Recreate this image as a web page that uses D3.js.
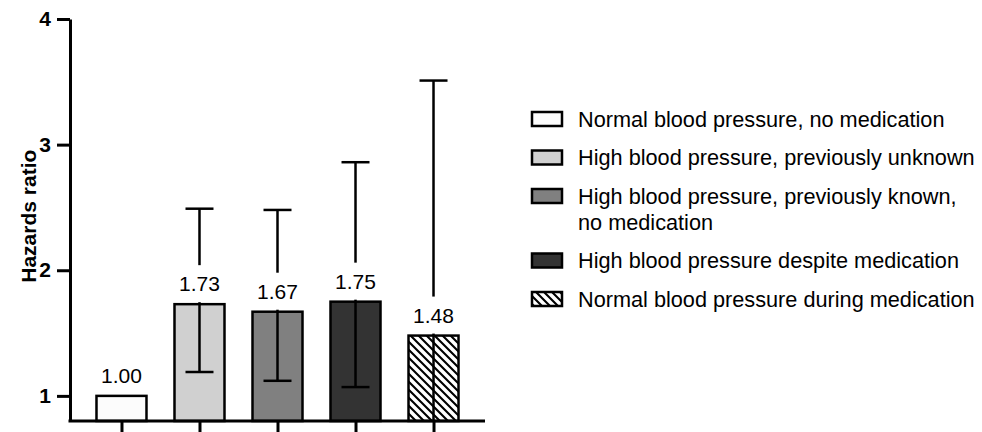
<!DOCTYPE html>
<html>
<head>
<meta charset="utf-8">
<script src="https://cdn.jsdelivr.net/npm/d3@7"></script>
<style>
  body { margin: 0; background: #fff; }
  svg text { font-family: "Liberation Sans", Arial, sans-serif; fill: #000; }
</style>
</head>
<body>
<div id="chart"></div>
<script>
// data
var groups = ["Normal blood pressure, no medication",
              "High blood pressure, previously unknown",
              "High blood pressure, previously known, no medication",
              "High blood pressure despite medication",
              "Normal blood pressure during medication"];
var hrValues = [1.00, 1.73, 1.67, 1.75, 1.48];
var ciLower = [null, 1.19, 1.12, 1.07, 0.62];
var ciUpper = [null, 2.49, 2.48, 2.86, 3.51];
var hrLabels = ["1.00", "1.73", "1.67", "1.75", "1.48"];
var yTicks = [1, 2, 3, 4];
var legendLines = [["Normal blood pressure, no medication"],
                   ["High blood pressure, previously unknown"],
                   ["High blood pressure, previously known,", "no medication"],
                   ["High blood pressure despite medication"],
                   ["Normal blood pressure during medication"]];
var fills = ["#fcfcfc", "#d0d0d0", "#808080", "#333333", "url(#hatch)"];

var width = 982, height = 432;
var margin = { top: 19, left: 70 };
var w = 415, h = 402;

var svg = d3.select("#chart").append("svg")
  .attr("width", width).attr("height", height);

// diagonal hatch for the last group
var pat = svg.append("defs").append("pattern")
  .attr("id", "hatch").attr("patternUnits", "userSpaceOnUse")
  .attr("width", 8).attr("height", 8);
pat.append("rect").attr("width", 8).attr("height", 8).attr("fill", "#fff");
pat.append("path")
  .attr("d", "M-1,-1 L9,9 M-1,7 L1,9 M7,-1 L9,1")
  .attr("stroke", "#000").attr("stroke-width", 2.1);

var g = svg.append("g").attr("transform", "translate(" + margin.left + "," + margin.top + ")");

var x = d3.scalePoint().domain(groups).range([0, w]).padding(0.66);
var y = d3.scaleLinear().domain([0.8, 4]).range([h, 0]);
var barW = 50;

g.append("clipPath").attr("id", "plotclip")
  .append("rect").attr("x", 0).attr("y", -5).attr("width", w).attr("height", h + 5);

// bars
g.selectAll(".bar").data(groups).enter().append("rect")
  .attr("class", "bar")
  .attr("x", function(d) { return x(d) - barW / 2; })
  .attr("y", function(d, i) { return y(hrValues[i]); })
  .attr("width", barW)
  .attr("height", function(d, i) { return y(0.8) - y(hrValues[i]); })
  .attr("fill", function(d, i) { return fills[i]; })
  .attr("stroke", "#000").attr("stroke-width", 2.5);

// error bars
var eb = g.append("g").attr("clip-path", "url(#plotclip)");
groups.forEach(function(d, i) {
  if (ciUpper[i] == null) return;
  var cx = x(d);
  eb.append("line").attr("x1", cx).attr("x2", cx)
    .attr("y1", y(Math.max(ciLower[i], 0.8))).attr("y2", y(ciUpper[i]))
    .attr("stroke", "#000").attr("stroke-width", 2.5);
  eb.append("line").attr("x1", cx - 14).attr("x2", cx + 14)
    .attr("y1", y(ciUpper[i])).attr("y2", y(ciUpper[i]))
    .attr("stroke", "#000").attr("stroke-width", 2.5);
  if (ciLower[i] > 0.8) {
    eb.append("line").attr("x1", cx - 14).attr("x2", cx + 14)
      .attr("y1", y(ciLower[i])).attr("y2", y(ciLower[i]))
      .attr("stroke", "#000").attr("stroke-width", 2.5);
  }
});

// value labels on a white box that breaks the whisker
groups.forEach(function(d, i) {
  var top = y(hrValues[i]);
  g.append("rect").attr("x", x(d) - 24).attr("y", top - 39)
    .attr("width", 48).attr("height", 37).attr("fill", "#fff");
  g.append("text").attr("x", x(d)).attr("y", top - 13)
    .attr("text-anchor", "middle").style("font-size", "21px")
    .text(hrLabels[i]);
});

// axes
var yAxis = g.append("g")
  .call(d3.axisLeft(y).tickValues(yTicks).tickFormat(d3.format("d")).tickSize(13).tickSizeOuter(0));
yAxis.selectAll("path, line").attr("stroke", "#000").attr("stroke-width", 3);
yAxis.selectAll("text").style("font-size", "21px").style("font-weight", "bold")
  .attr("x", -19).attr("font-family", null);

var xAxis = g.append("g").attr("transform", "translate(0," + h + ")")
  .call(d3.axisBottom(x).tickFormat("").tickSize(13).tickSizeOuter(0));
xAxis.selectAll("path, line").attr("stroke", "#000").attr("stroke-width", 3);
xAxis.select(".domain").attr("d", "M-1.5,0H" + w);

g.append("text")
  .attr("transform", "translate(" + (-34) + "," + (y(2.43)) + ") rotate(-90)")
  .attr("text-anchor", "middle")
  .style("font-size", "21px").style("font-weight", "bold")
  .text("Hazards ratio");

// legend
var legend = svg.append("g").attr("transform", "translate(532,0)");
var ly = 119;
legendLines.forEach(function(lines, i) {
  legend.append("rect").attr("x", 0).attr("y", ly - 7).attr("width", 30).attr("height", 14)
    .attr("fill", fills[i]).attr("stroke", "#000").attr("stroke-width", 2.5);
  lines.forEach(function(t, j) {
    legend.append("text").attr("x", 46).attr("y", ly + j * 26)
      .attr("dy", "0.35em").style("font-size", "21.7px").text(t);
  });
  ly += 38.5 + (lines.length - 1) * 26;
});
</script>
</body>
</html>
